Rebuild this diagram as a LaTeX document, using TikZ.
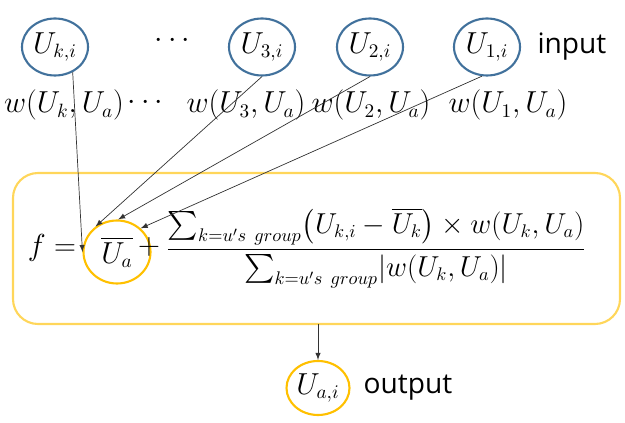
\documentclass[tikz,border=0pt]{standalone}
\usepackage{amsmath}
\usepackage{fontspec}
\setsansfont{Open Sans}
\usetikzlibrary{shapes.geometric}
\definecolor{inblue}{RGB}{65,113,156}
\definecolor{outgold}{RGB}{255,192,0}
\definecolor{boxgold}{RGB}{255,214,90}
\begin{document}
\begin{tikzpicture}[
    node distance=1.6cm,
    incircle/.style={
        ellipse,
        draw=inblue,
        line width=1.2pt,
        minimum width=1.32cm,
        minimum height=1.14cm,
        inner sep=0pt,
    },
    outcircle/.style={
        incircle,
        draw=outgold,
    },
    word/.style={font=\fontsize{16}{19}\sffamily},
    >=latex, font=\fontsize{16}{19}\selectfont
]
\useasboundingbox (0,0) rectangle (12.5,8.46);

% input row
\node[incircle] (uk) at (1.10,7.52) {$U_{k,i}$};
\node (topdots) at (3.50,7.64) {$\cdots$};
\node[incircle] (u3) at (5.24,7.52) {$U_{3,i}$};
\node[incircle] (u2) at (7.40,7.52) {$U_{2,i}$};
\node[incircle] (u1) at (9.74,7.52) {$U_{1,i}$};
\node[word] (inlabel) [right of=u1, node distance=1.7cm] {input};

% weights
\node (wk) at (1.28,6.36) {$w(U_k,U_a)$};
\node (wdots) at (2.96,6.40) {$\cdots$};
\node (w3) at (4.92,6.36) {$w(U_3,U_a)$};
\node (w2) at (7.42,6.36) {$w(U_2,U_a)$};
\node (w1) at (10.16,6.36) {$w(U_1,U_a)$};

% formula box
\draw[boxgold, line width=1.2pt, rounded corners=0.5cm] (0.26,1.98) rectangle (12.40,5.00);
\coordinate (boxbottom) at (6.36,1.98);
\node (feq) at (1.04,3.50) {$f=$};
\node[outcircle, minimum width=1.34cm, minimum height=1.26cm] (ua) at (2.34,3.42) {$\overline{U_a}$};
\node (plus) at (2.98,3.52) {$+$};
\node[scale=0.95, transform shape, inner sep=0pt] (frac) at (7.52,3.50) {$\displaystyle\frac{\sum_{k=u's\ group}\bigl(U_{k,i}-\overline{U_k}\bigr)\times w(U_k,U_a)}{\sum_{k=u's\ group}\lvert w(U_k,U_a)\rvert}$};

% output
\node[outcircle, minimum width=1.26cm, minimum height=1.08cm] (uai) at (6.36,0.70) {$U_{a,i}$};
\node[word] (outlabel) [right of=uai, node distance=1.8cm] {output};

\draw[->, black!80, thin] (uk.-55) -- (ua.west);
\draw[->, black!80, thin] (u3.south) -- (ua.130);
\draw[->, black!80, thin] (u2.south) -- (ua.88);
\draw[->, black!80, thin] (u1.-100) -- (ua.45);
\draw[->, black!80, thin] (boxbottom) -- (uai);

\end{tikzpicture}
\end{document}
